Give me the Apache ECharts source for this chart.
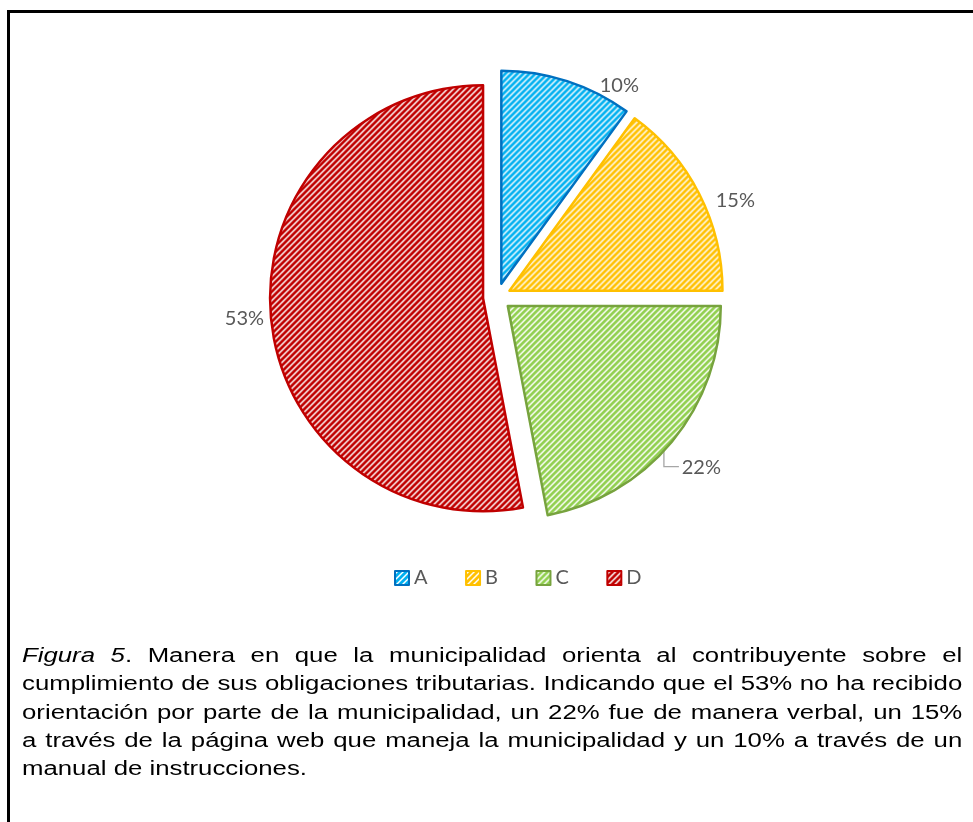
<!DOCTYPE html>
<html>
<head>
<meta charset="utf-8">
<script src="https://cdn.jsdelivr.net/npm/echarts@6/dist/echarts.min.js"></script>
<style>
  html, body { margin: 0; padding: 0; background: #fff; }
  #frame { position: absolute; left: 7px; top: 10px; width: 980px; height: 830px;
           border-left: 3px solid #000; border-top: 3px solid #000; }
  #main { position: absolute; left: 0; top: 0; width: 973px; height: 822px; }
  #caption { position: absolute; left: 22px; top: 641px; width: 730px;
             transform: scaleX(1.288); transform-origin: 0 0;
             font-family: "Liberation Sans", Arial, sans-serif; font-size: 20px;
             line-height: 28.3px; color: #000; }
  #caption div { text-align: justify; text-align-last: justify; white-space: nowrap; }
  #caption div:last-child { text-align-last: left; }
</style>
</head>
<body>
<div id="frame"></div>
<div id="main"></div>
<div id="caption">
  <div><i>Figura 5</i>. Manera en que la municipalidad orienta al contribuyente sobre el</div>
  <div>cumplimiento de sus obligaciones tributarias. Indicando que el 53% no ha recibido</div>
  <div>orientación por parte de la municipalidad, un 22% fue de manera verbal, un 15%</div>
  <div>a través de la página web que maneja la municipalidad y un 10% a través de un</div>
  <div>manual de instrucciones.</div>
</div>
<script>
// data
const categories = ['A', 'B', 'C', 'D'];
const shares = [10, 15, 22, 53];
const hatchColors = ['#00B0F0', '#FFC000', '#92D050', '#C00000'];
const edgeColors = ['#0070C0', '#FFC000', '#77A33E', '#C00000'];

// label nudges to sit like excel's best fit:
// left padding moves right, a blank first line of height h moves down h/2
const labelPads = [[0, 0, 0, 21], [0, 0, 0, 2], [0, 0, 0, 1], [0, 0, 4, 0]];
const labelDrop = [18, 18, 46, 0];
const lineLens = [[5, 5], [5, 5], [5, 0], [2, 0]];

// diagonal stripe fill like the excel pattern
function hatch(color) {
  const c = document.createElement('canvas');
  c.width = 6; c.height = 6;
  const g = c.getContext('2d');
  g.fillStyle = '#fff';
  g.fillRect(0, 0, 6, 6);
  g.strokeStyle = color;
  g.lineWidth = 2.8;
  g.beginPath();
  g.moveTo(-3, 3); g.lineTo(3, -3);
  g.moveTo(0, 6); g.lineTo(6, 0);
  g.moveTo(3, 9); g.lineTo(9, 3);
  g.stroke();
  return { image: c, repeat: 'repeat' };
}

const pieData = categories.map((name, i) => {
  const style = { color: hatch(hatchColors[i]), borderColor: edgeColors[i], borderWidth: 2.5 };
  const label = { padding: labelPads[i] };
  if (labelDrop[i]) {
    label.formatter = '\n{d}%';
    label.lineHeight = labelDrop[i];
  }
  return {
    name: name,
    value: shares[i],
    selected: true,
    itemStyle: style,
    select: { itemStyle: style },
    label: label,
    labelLine: { show: i === 2, length: lineLens[i][0], length2: lineLens[i][1] }
  };
});

var myChart = echarts.init(document.getElementById('main'), null, { renderer: 'canvas' });
myChart.setOption({
  animation: false,
  legend: {
    data: categories,
    left: 389,
    top: 563,
    itemWidth: 14,
    itemHeight: 14,
    itemGap: 37.5,
    icon: 'rect',
    selectedMode: false,
    textStyle: { fontFamily: 'Lato', fontSize: 20, color: '#595959' }
  },
  series: [{
    type: 'pie',
    center: [497, 297],
    radius: 213,
    startAngle: 90,
    clockwise: true,
    selectedMode: 'multiple',
    selectedOffset: 14,
    avoidLabelOverlap: false,
    label: {
      show: true,
      position: 'outside',
      formatter: '{d}%',
      fontFamily: 'Lato',
      fontSize: 20,
      color: '#595959'
    },
    labelLine: { lineStyle: { color: '#A6A6A6', width: 1.3 } },
    // bend the C leader down then right, as excel does
    labelLayout: function (p) {
      if (p.dataIndex !== 2 || !p.labelLinePoints) return {};
      const a = p.labelLinePoints[0];
      return {
        labelLinePoints: [[a[0] - 8, a[1] + 9], [a[0] - 8, a[1] + 25], [a[0] + 7, a[1] + 25]]
      };
    },
    emphasis: { disabled: true },
    data: pieData
  }]
});
</script>
</body>
</html>
